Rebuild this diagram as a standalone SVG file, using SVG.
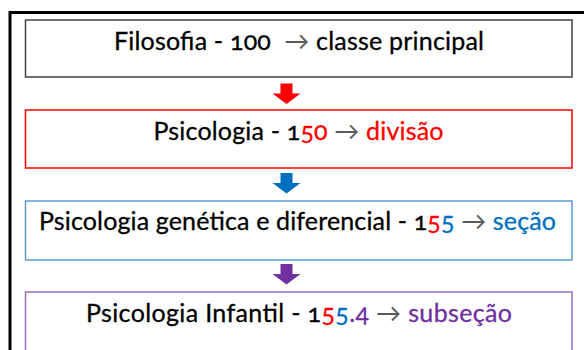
<svg xmlns="http://www.w3.org/2000/svg" xmlns:xlink="http://www.w3.org/1999/xlink" width="584" height="350" viewBox="0 0 584 350">
<style>
.box{fill:#ffffff;stroke-width:1.5}
.t{font-family:Lato,"Open Sans","Liberation Sans",sans-serif;font-size:25px;fill:#000000;stroke:#000000;stroke-width:0.3;text-anchor:middle;font-variant-numeric:oldstyle-nums;font-feature-settings:"onum" 1}
.ar{fill:#595959;stroke:#595959;stroke-width:0.1}
.red{fill:#ff0000;stroke:#ff0000}
.blue{fill:#0070c0;stroke:#0070c0}
.pur{fill:#7030a0;stroke:#7030a0}
</style>
<defs>
<path id="dn" d="M-6,0 H6 V10 H14 L0,20.5 L-14,10 H-6 Z"/>
</defs>
<rect x="0" y="0" width="584" height="350" fill="#ffffff"/>
<rect x="10" y="12.5" width="620" height="400" fill="none" stroke="#000000" stroke-width="3"/>
<g id="connectors">
<use xlink:href="#dn" href="#dn" transform="translate(286.5,83.5)" fill="#ff0000"/>
<use xlink:href="#dn" href="#dn" transform="translate(286.5,173)" fill="#0070c0"/>
<use xlink:href="#dn" href="#dn" transform="translate(286.5,264)" fill="#7030a0"/>
</g>
<g id="n1">
<rect class="box" x="25.5" y="20" width="546.5" height="57" stroke="#404040"/>
<text class="t" x="299" y="50" textLength="370" lengthAdjust="spacing">Filosofia - 100 <tspan class="ar">&#160;→</tspan> classe principal</text>
</g>
<g id="n2">
<rect class="box" x="25.5" y="110" width="546.5" height="58" stroke="#ff0000"/>
<text class="t" x="298.5" y="140" textLength="290" lengthAdjust="spacing">Psicologia - 1<tspan class="red">50</tspan> <tspan class="ar">→</tspan> <tspan class="red">divisão</tspan></text>
</g>
<g id="n3">
<rect class="box" x="25.5" y="201" width="546.5" height="59" stroke="#5b9bd5"/>
<text class="t" x="297.5" y="230" textLength="517" lengthAdjust="spacing">Psicologia genética e diferencial - 1<tspan class="red">5</tspan><tspan class="blue">5</tspan> <tspan class="ar">→</tspan> <tspan class="blue">seção</tspan></text>
</g>
<g id="n4">
<rect class="box" x="25.5" y="292" width="546.5" height="70" stroke="#9a6fc6"/>
<text class="t" x="299" y="322" textLength="426" lengthAdjust="spacing">Psicologia Infantil - 1<tspan class="red">5</tspan><tspan class="blue">5</tspan><tspan class="pur">.4</tspan> <tspan class="ar">→</tspan> <tspan class="pur">subseção</tspan></text>
</g>
</svg>
